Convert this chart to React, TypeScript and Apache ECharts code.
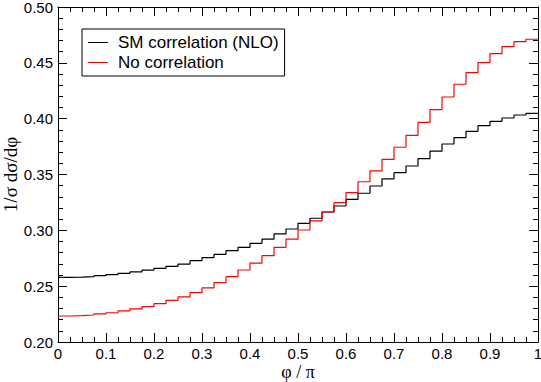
import React, { useEffect, useRef } from "react";
import * as echarts from "echarts";

const binStarts: number[] = Array.from({ length: 40 }, (_, i) => i / 40);
const xEnd = 1;

const smCorrelation: number[] = [
  0.2579, 0.2581, 0.2586, 0.2594, 0.2604, 0.2615, 0.2628, 0.2644, 0.266, 0.2678,
  0.2698, 0.2728, 0.2756, 0.2785, 0.2818, 0.2848, 0.2884, 0.2922, 0.2968, 0.3012,
  0.3063, 0.3108, 0.3164, 0.3218, 0.3278, 0.3332, 0.3397, 0.346, 0.3516, 0.3576,
  0.3643, 0.371, 0.3773, 0.3831, 0.3887, 0.3937, 0.3976, 0.4006, 0.4033, 0.4048,
];

const noCorrelation: number[] = [
  0.2233, 0.2236, 0.2242, 0.2251, 0.2262, 0.2279, 0.2296, 0.2317, 0.2343, 0.2373,
  0.2404, 0.2442, 0.2484, 0.2531, 0.2585, 0.2645, 0.2707, 0.2773, 0.2848, 0.2921,
  0.3003, 0.3084, 0.3164, 0.3248, 0.3337, 0.3435, 0.3533, 0.3636, 0.3744, 0.3851,
  0.3967, 0.4081, 0.4194, 0.4308, 0.4412, 0.4502, 0.4582, 0.4645, 0.469, 0.4711,
];

const seriesNames = ["SM correlation (NLO)", "No correlation"];
const seriesColors = ["#000000", "#ff0000"];
const xTitle = "φ / π";
const yTitle = "1/σ dσ/dφ";

function toSteps(values: number[]): [number, number][] {
  const pts: [number, number][] = values.map((v, i) => [binStarts[i], v]);
  pts.push([xEnd, values[values.length - 1]]);
  return pts;
}

export default function App() {
  const ref = useRef<HTMLDivElement>(null);
  useEffect(() => {
    document.body.style.margin = "0";
    if (!ref.current) return;
    const chart = echarts.init(ref.current, null, { renderer: "svg" });
    const sans = "'Liberation Sans', Arial, Helvetica, sans-serif";
    const serif = "'Liberation Serif', 'DejaVu Serif', serif";
    const axisLine = { show: true, onZero: false, lineStyle: { color: "#000", width: 1 } };
    const xCommon = {
      type: "value" as const,
      min: 0,
      max: 1,
      interval: 0.1,
      axisLine,
      axisTick: { show: true, inside: true, length: 9, lineStyle: { color: "#000" } },
      minorTick: { show: true, splitNumber: 4, length: 5, lineStyle: { color: "#000" } },
      splitLine: { show: false },
    };
    const yCommon = {
      type: "value" as const,
      min: 0.2,
      max: 0.5,
      interval: 0.05,
      axisLine,
      axisTick: { show: true, inside: true, length: 9, lineStyle: { color: "#000" } },
      minorTick: { show: true, splitNumber: 5, length: 5, lineStyle: { color: "#000" } },
      splitLine: { show: false },
    };
    chart.setOption({
      animation: false,
      backgroundColor: "#fff",
      grid: {
        left: 58,
        top: 7,
        right: 3,
        bottom: 40,
        containLabel: false,
        outerBoundsMode: "none",
      },
      legend: {
        orient: "vertical",
        left: 82,
        top: 29,
        borderColor: "#000",
        borderWidth: 1,
        padding: [5, 6, 5, 6],
        itemGap: 3,
        itemWidth: 20,
        itemHeight: 1,
        icon: "rect",
        textStyle: { fontFamily: sans, fontSize: 17, color: "#000", padding: [0, 0, 0, 5] },
        data: seriesNames,
      },
      xAxis: [
        {
          ...xCommon,
          position: "bottom",
          name: xTitle,
          nameLocation: "middle",
          nameGap: 21,
          nameMoveOverlap: false,
          nameTextStyle: { fontFamily: serif, fontSize: 18, lineHeight: 18, color: "#000" },
          axisLabel: {
            margin: 4,
            fontFamily: sans,
            fontSize: 15,
            color: "#000",
            formatter: (v: number) => (v === 0 ? "0" : v === 1 ? "1" : v.toFixed(1)),
          },
        },
        { ...xCommon, position: "top", axisLabel: { show: false } },
      ],
      yAxis: [
        {
          ...yCommon,
          position: "left",
          name: yTitle,
          nameLocation: "middle",
          nameGap: 38,
          nameMoveOverlap: false,
          nameTextStyle: { fontFamily: serif, fontSize: 19, lineHeight: 19, color: "#000" },
          axisLabel: {
            margin: 5,
            fontFamily: sans,
            fontSize: 15,
            color: "#000",
            formatter: (v: number) => v.toFixed(2),
          },
        },
        { ...yCommon, position: "right", axisLabel: { show: false } },
      ],
      series: [
        {
          name: seriesNames[0],
          type: "line",
          step: "end",
          symbol: "none",
          data: toSteps(smCorrelation),
          lineStyle: { color: seriesColors[0], width: 1.2 },
          itemStyle: { color: seriesColors[0] },
        },
        {
          name: seriesNames[1],
          type: "line",
          step: "end",
          symbol: "none",
          data: toSteps(noCorrelation),
          lineStyle: { color: seriesColors[1], width: 1.2 },
          itemStyle: { color: seriesColors[1] },
        },
      ],
    });
    return () => chart.dispose();
  }, []);
  return (
    <div
      ref={ref}
      style={{ position: "absolute", left: 0, top: 0, width: 541, height: 382 }}
    />
  );
}
